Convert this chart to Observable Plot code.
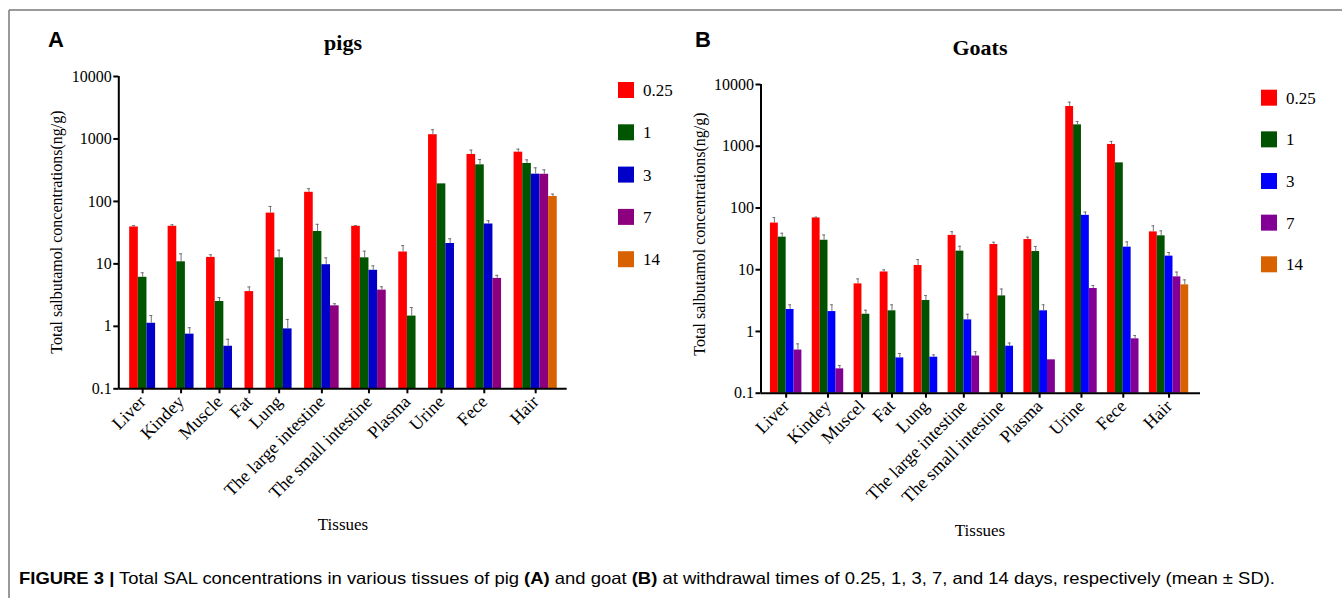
<!DOCTYPE html>
<html><head><meta charset="utf-8">
<script src="https://cdn.jsdelivr.net/npm/d3@7"></script>
<script src="https://cdn.jsdelivr.net/npm/@observablehq/plot@0.6"></script>
<style>
html,body{margin:0;padding:0;background:#fff;}
body{width:1342px;height:598px;overflow:hidden;position:relative;}
.panel{position:absolute;top:0;}
#overlay{position:absolute;left:0;top:0;}
</style></head>
<body>
<div id="pA" class="panel" style="left:0px"></div>
<div id="pB" class="panel" style="left:640px"></div>
<svg id="overlay" width="1342" height="598"></svg>
<script>
// ---------- data ----------
const times = ["0.25", "1", "3", "7", "14"];
const tissuesPig = ["Liver", "Kindey", "Muscle", "Fat", "Lung", "The large intestine", "The small intestine", "Plasma", "Urine", "Fece", "Hair"];
const tissuesGoat = ["Liver", "Kindey", "Muscel", "Fat", "Lung", "The large intestine", "The small intestine", "Plasma", "Urine", "Fece", "Hair"];
const yTicks = [0.1, 1, 10, 100, 1000, 10000];

// pigs: mean per withdrawal time (null = not shown)
const pig_025 = [39, 40, 12.7, 3.6, 65, 140, 40, 15.5, 1170, 565, 615];
const pig_1   = [6.1, 10.8, 2.5, null, 12.5, 33, 12.5, 1.46, 191, 385, 405];
const pig_3   = [1.12, 0.75, 0.48, null, 0.91, 9.7, 7.9, null, 21.2, 43.5, 273];
const pig_7   = [null, null, null, null, null, 2.13, 3.8, null, null, 5.85, 272];
const pig_14  = [null, null, null, null, null, null, null, null, null, null, 120];
// pigs: SD
const pigSd_025 = [2, 2.3, 1.3, 0.67, 18, 20, 1, 4.1, 235, 98, 72];
const pigSd_1   = [1.1, 3.7, 0.38, 0, 4.1, 10, 3.5, 0.54, 0, 84, 58];
const pigSd_3   = [0.37, 0.2, 0.14, 0, 0.38, 2.8, 1.4, 0, 4, 5.6, 72];
const pigSd_7   = [0, 0, 0, 0, 0, 0.17, 0.5, 0, 0, 0.7, 48];
const pigSd_14  = [0, 0, 0, 0, 0, 0, 0, 0, 0, 0, 11];

// goats: mean
const goat_025 = [57, 69, 5.9, 9.2, 11.7, 36, 25.6, 30.8, 4400, 1070, 41];
const goat_1   = [33.7, 30, 1.9, 2.16, 3.17, 20, 3.77, 19.7, 2220, 538, 35.4];
const goat_3   = [2.27, 2.1, null, 0.373, 0.383, 1.54, 0.577, 2.16, 76, 23.2, 16.6];
const goat_7   = [0.5, 0.248, null, null, null, 0.4, null, 0.347, 4.96, 0.76, 7.66];
const goat_14  = [null, null, null, null, null, null, null, null, null, null, 5.69];
// goats: SD
const goatSd_025 = [13, 2, 1.2, 0.75, 2.9, 5.3, 2.3, 2.9, 774, 126, 10.4];
const goatSd_1   = [5.3, 6.6, 0.31, 0.54, 0.65, 4, 1.1, 4.1, 298, 0, 7.2];
const goatSd_3   = [0.43, 0.6, 0, 0.067, 0.035, 0.36, 0.073, 0.54, 10, 5.1, 2.4];
const goatSd_7   = [0.13, 0.032, 0, 0, 0, 0.07, 0, 0, 0.6, 0.1, 1.5];
const goatSd_14  = [0, 0, 0, 0, 0, 0, 0, 0, 0, 0, 1.16];

const colorsPig  = ["#ff0000", "#005500", "#0000c8", "#8c007e", "#d96200"];
const colorsGoat = ["#ff0000", "#005200", "#0000ff", "#820096", "#d96200"];

// ---------- build ----------
function layout(tissues, series, sds, gap) {
  const rows = [], centers = [];
  let cur = 0;
  tissues.forEach((t, i) => {
    const start = cur;
    series.forEach((s, j) => {
      const v = s[i];
      if (v != null) {
        const sd = sds[j][i] || 0;
        rows.push({tissue: t, time: times[j], v, sd, top: v + sd, x1: cur, x2: cur + 1, xc: cur + 0.5});
        cur += 1;
      }
    });
    centers.push({t, c: (start + cur) / 2});
    cur += gap;
  });
  return {rows, centers, total: cur - gap};
}

function panel({tissues, series, sds, colors, gap, padL, padR, width, height, mL, mR, mT, mB}) {
  const {rows, centers, total} = layout(tissues, series, sds, gap);
  const nameAt = new Map(centers.map(d => [d.c, d.t]));
  const err = rows.filter(d => d.sd > 0);
  return Plot.plot({
    width, height,
    marginLeft: mL, marginRight: mR, marginTop: mT, marginBottom: mB,
    style: {fontFamily: "'Liberation Serif', 'Times New Roman', serif", fontSize: "16px", color: "#000", background: "transparent", overflow: "visible"},
    x: {type: "linear", domain: [-padL, total + padR]},
    y: {type: "log", domain: [yTicks[0], yTicks[yTicks.length - 1]]},
    color: {type: "ordinal", domain: times, range: colors},
    marks: [
      Plot.rect(rows, {x1: "x1", x2: "x2", y1: yTicks[0], y2: "v", fill: "time"}),
      Plot.ruleX(err, {x: "xc", y1: "v", y2: "top", stroke: "#666", strokeWidth: 0.9}),
      Plot.ruleY(err, {y: "top", x1: d => d.xc - 0.18, x2: d => d.xc + 0.18, stroke: "#666", strokeWidth: 0.9}),
      Plot.ruleX([-padL], {stroke: "#000", strokeWidth: 2}),
      Plot.ruleY([yTicks[0]], {stroke: "#000", strokeWidth: 2}),
      Plot.axisY({ticks: yTicks, tickFormat: d => String(d), tickSize: 5, tickPadding: 2, strokeWidth: 2, label: null, fontSize: 16}),
      Plot.axisX({ticks: centers.map(d => d.c), tickFormat: c => nameAt.get(c), tickRotate: -45, tickSize: 5, tickPadding: 5, strokeWidth: 2, label: null, fontSize: 18})
    ]
  });
}

document.getElementById("pA").append(panel({
  tissues: tissuesPig,
  series: [pig_025, pig_1, pig_3, pig_7, pig_14],
  sds: [pigSd_025, pigSd_1, pigSd_3, pigSd_7, pigSd_14],
  colors: colorsPig, gap: 1.45, padL: 1.26, padR: 1.15,
  width: 640, height: 560, mL: 118.3, mR: 640 - 566.7, mT: 76, mB: 560 - 388.3
}));

document.getElementById("pB").append(panel({
  tissues: tissuesGoat,
  series: [goat_025, goat_1, goat_3, goat_7, goat_14],
  sds: [goatSd_025, goatSd_1, goatSd_3, goatSd_7, goatSd_14],
  colors: colorsGoat, gap: 1.32, padL: 1.2, padR: 1.5,
  width: 620, height: 560, mL: 760.5 - 640, mR: 620 - (1200 - 640), mT: 84, mB: 560 - 392.7
}));

// ---------- annotations ----------
const svg = d3.select("#overlay");
const serif = "'Liberation Serif', 'Times New Roman', serif";
const sans = "'Liberation Sans', Arial, sans-serif";

// frame
svg.append("path").attr("d", "M9,10H1342M9,10V598").attr("fill", "none").attr("stroke", "#7a7a7a").attr("stroke-width", 1.5);

function panelText(letter, lx, title, tx, ty, ylx, yly, tisX, tisY) {
  svg.append("text").attr("x", lx).attr("y", 47).attr("font-family", sans).attr("font-weight", "bold").attr("font-size", 22).text(letter);
  svg.append("text").attr("x", tx).attr("y", ty).attr("text-anchor", "middle").attr("font-family", serif).attr("font-weight", "bold").attr("font-size", 22).text(title);
  svg.append("text").attr("transform", `translate(${ylx},${yly}) rotate(-90)`).attr("text-anchor", "middle").attr("font-family", serif).attr("font-size", 16).text("Total salbutamol concentrations(ng/g)");
  svg.append("text").attr("x", tisX).attr("y", tisY).attr("text-anchor", "middle").attr("font-family", serif).attr("font-size", 17).text("Tissues");
}
panelText("A", 48, "pigs", 343, 50, 62, 232, 343, 530);
panelText("B", 695, "Goats", 980, 55, 705, 234, 980, 536);

function legend(x, y0, step, colors) {
  times.forEach((t, i) => {
    const g = svg.append("g").attr("transform", `translate(${x},${y0 + i * step})`);
    g.append("rect").attr("x", 0).attr("y", -8).attr("width", 16).attr("height", 16).attr("fill", colors[i]);
    g.append("text").attr("x", 25).attr("y", 6).attr("font-family", serif).attr("font-size", 17).text(t);
  });
}
legend(618, 90, 42.3, colorsPig);
legend(1261, 97.7, 41.65, colorsGoat);

// caption
const cap = svg.append("text").attr("x", 19).attr("y", 584).attr("font-family", sans).attr("font-size", 16.5)
  .attr("textLength", 1256).attr("lengthAdjust", "spacingAndGlyphs");
cap.append("tspan").attr("font-weight", "bold").text("FIGURE 3 |");
cap.append("tspan").text(" Total SAL concentrations in various tissues of pig ");
cap.append("tspan").attr("font-weight", "bold").text("(A)");
cap.append("tspan").text(" and goat ");
cap.append("tspan").attr("font-weight", "bold").text("(B)");
cap.append("tspan").text(" at withdrawal times of 0.25, 1, 3, 7, and 14 days, respectively (mean ± SD).");
</script>
</body></html>
